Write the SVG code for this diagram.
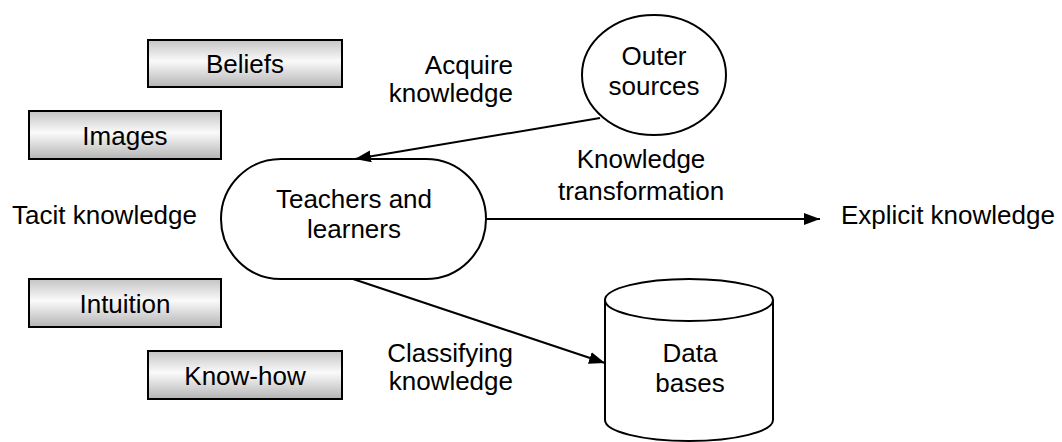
<svg xmlns="http://www.w3.org/2000/svg" width="1062" height="442" viewBox="0 0 1062 442">
<style>
text{font-family:"Liberation Sans",Arial,sans-serif;font-size:26px;fill:#000}
.box{fill:url(#g);stroke:#000;stroke-width:2}
.shape{fill:#fff;stroke:#000;stroke-width:2}
.conn{stroke:#000;stroke-width:2;fill:none;marker-end:url(#ah)}
.c{text-anchor:middle}
.e{text-anchor:end}
</style>
<defs>
<linearGradient id="g" x1="0" y1="0" x2="0" y2="1">
<stop offset="0" stop-color="#c4c4c4"/>
<stop offset="0.45" stop-color="#fafafa"/>
<stop offset="1" stop-color="#b4b4b4"/>
</linearGradient>
<marker id="ah" viewBox="0 0 16 12" refX="16" refY="6" markerWidth="16" markerHeight="12" markerUnits="userSpaceOnUse" orient="auto">
<path d="M0,0 L16,6 L0,12 Z" fill="#000"/>
</marker>
</defs>
<g id="beliefs"><rect class="box" x="148" y="40" width="194" height="47"/><text class="c" x="245" y="73">Beliefs</text></g>
<g id="images"><rect class="box" x="29" y="111" width="192" height="48"/><text class="c" x="125" y="145">Images</text></g>
<g id="intuition"><rect class="box" x="29" y="279" width="192" height="48"/><text class="c" x="125" y="313">Intuition</text></g>
<g id="knowhow"><rect class="box" x="148" y="351" width="194" height="48"/><text class="c" x="245" y="385">Know-how</text></g>
<g id="tacit"><text x="12" y="224">Tacit knowledge</text></g>
<g id="teachers"><rect class="shape" x="221" y="159" width="265" height="120" rx="60" ry="60"/><text class="c" x="354" y="208">Teachers and</text><text class="c" x="354" y="238">learners</text></g>
<g id="outer"><ellipse class="shape" cx="654" cy="75" rx="72" ry="60"/><text class="c" x="654" y="65">Outer</text><text class="c" x="654" y="95">sources</text></g>
<g id="explicit"><text x="841" y="224">Explicit knowledge</text></g>
<g id="databases"><path class="shape" d="M605,300 L605,420 A84,21 0 0 0 773,420 L773,300"/><ellipse class="shape" cx="689" cy="300" rx="84" ry="21"/><text class="c" x="690" y="362">Data</text><text class="c" x="690" y="392">bases</text></g>
<g id="connectors">
<line class="conn" x1="600" y1="118" x2="355" y2="159"/>
<line class="conn" x1="486" y1="219" x2="820" y2="219"/>
<line class="conn" x1="353" y1="279" x2="605" y2="363"/>
</g>
<g id="labels">
<text class="e" x="513" y="74">Acquire</text><text class="e" x="513" y="102">knowledge</text>
<text class="c" x="641" y="168">Knowledge</text><text class="c" x="641" y="200">transformation</text>
<text class="e" x="513" y="362">Classifying</text><text class="e" x="513" y="390">knowledge</text>
</g>
</svg>
